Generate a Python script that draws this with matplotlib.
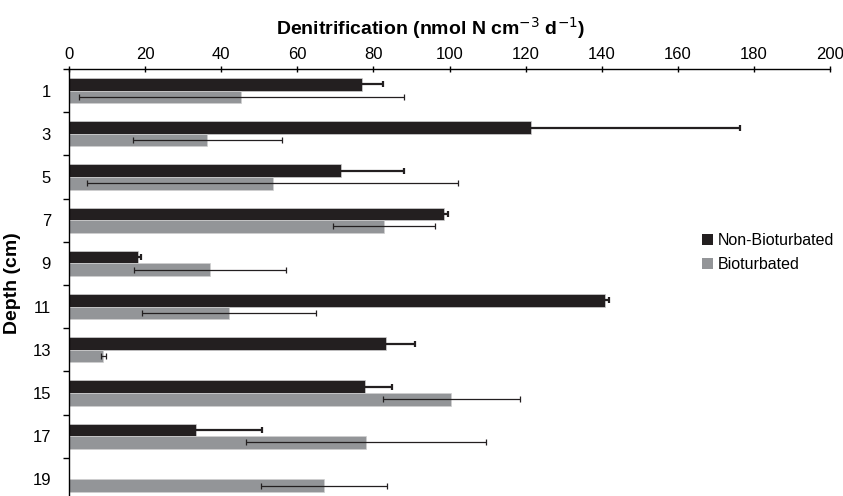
import numpy as np
import matplotlib.pyplot as plt
from matplotlib.patches import Patch

# depths (cm) and denitrification rates (nmol N cm-3 d-1)
depths = ['1', '3', '5', '7', '9', '11', '13', '15', '17', '19']
non_bio = [76.9, 121.3, 71.5, 98.6, 18.2, 140.8, 83.4, 77.9, 33.5, 0]
non_bio_err = [5.7, 55.0, 16.5, 0.9, 0.6, 1.0, 7.6, 7.1, 17.2, 0]
bio = [45.3, 36.3, 53.5, 82.7, 37.0, 42.0, 9.0, 100.5, 78.0, 67.0]
bio_err = [42.8, 19.6, 48.8, 13.4, 20.0, 22.8, 0.7, 18.0, 31.5, 16.5]

black = '#231f20'
grey = '#939598'

plt.rcParams['font.family'] = ['Liberation Sans', 'DejaVu Sans']

fig = plt.figure(figsize=(8.43, 4.96), dpi=100)
# axes run past the bottom edge, like the cropped original
ax = fig.add_axes([69 / 843, 1 - 501 / 496, 761 / 843, 432 / 496])

y = np.arange(len(depths))
h = 0.29

ax.barh(y - h / 2, non_bio, height=h, color=black, edgecolor='#d0d0d0', linewidth=0.5)
ax.barh(y + h / 2, bio, height=h, color=grey, edgecolor='#d0d0d0', linewidth=0.5)

# no error bar where there is no bar (19 cm, non-bioturbated)
nb = np.array(non_bio)
has = nb > 0
ax.errorbar(nb[has], (y - h / 2)[has], xerr=np.array(non_bio_err)[has], fmt='none',
            ecolor=black, elinewidth=1.6, capsize=2.5, capthick=1.6)
ax.errorbar(bio, y + h / 2, xerr=bio_err, fmt='none', ecolor=black,
            elinewidth=0.9, capsize=2.5, capthick=0.9)

ax.set_xlim(0, 200)
ax.set_ylim(len(depths) - 0.5, -0.5)
ax.set_xticks(np.arange(0, 201, 20))
ax.xaxis.tick_top()
ax.xaxis.set_label_position('top')
ax.set_xlabel('Denitrification (nmol N cm$^{-3}$ d$^{-1}$)',
              fontsize=14, fontweight='bold', labelpad=9)
ax.xaxis.label.set_x((431 - 69) / 761)

ax.set_yticks(y)
ax.set_yticklabels(depths)
ax.set_yticks(np.arange(-0.5, len(depths), 1), minor=True)
ax.tick_params(axis='y', which='major', length=0, pad=13, labelsize=12)
ax.tick_params(axis='y', which='minor', length=4, width=1, direction='out')
ax.tick_params(axis='x', length=4, width=1, direction='inout', labelsize=12, pad=3)
ax.set_ylabel('Depth (cm)', fontsize=14, fontweight='bold', labelpad=8)
ax.yaxis.label.set_y(1 - (283 - 69) / 432)

for s in ['right', 'bottom']:
    ax.spines[s].set_visible(False)
for s in ['top', 'left']:
    ax.spines[s].set_linewidth(1)

handles = [Patch(facecolor=black, label='Non-Bioturbated'),
           Patch(facecolor=grey, label='Bioturbated')]
ax.legend(handles=handles, loc='upper left', bbox_to_anchor=(0.828, 0.628), frameon=False,
          fontsize=11.5, handlelength=0.7, handleheight=0.7, handletextpad=0.25,
          labelspacing=0.6, borderaxespad=0, borderpad=0.2)

fig.savefig('out.png', dpi=100)
